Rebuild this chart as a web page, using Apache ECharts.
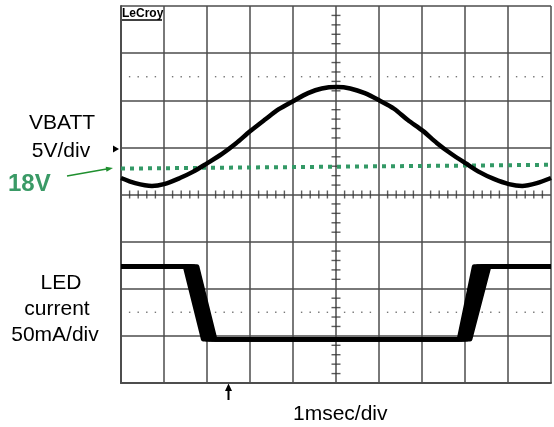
<!DOCTYPE html>
<html><head><meta charset="utf-8">
<script src="https://cdn.jsdelivr.net/npm/echarts@6/dist/echarts.min.js"></script>
<style>html,body{margin:0;padding:0;background:#fff}#c{width:554px;height:427px}</style>
</head><body><div id="c"></div>
<script>
// time in divisions (1 ms/div), amplitude in divisions (VBATT 5V/div, LED 50mA/div)
const vbattTime = [0.00,0.33,0.72,1.00,1.37,1.67,2.00,2.35,2.67,3.00,3.35,3.67,4.00,4.35,4.67,5.02,5.33,5.67,6.02,6.35,6.67,7.02,7.35,7.67,8.02,8.35,8.67,9.02,9.33,9.67,10.0];
const vbattLevel = [4.35,4.24,4.18,4.22,4.35,4.48,4.66,4.86,5.08,5.34,5.59,5.81,5.98,6.15,6.25,6.28,6.25,6.15,5.99,5.82,5.58,5.35,5.09,4.87,4.66,4.47,4.33,4.22,4.18,4.24,4.35];
const ledHigh = 2.47;
const ledLow = 0.93;
const fallStart = [1.49,1.56,1.63,1.70,1.77];
const fallEnd   = [1.91,1.98,2.05,2.12,2.19];
const riseStart = [7.86,7.92,7.99,8.05,8.12];
const riseEnd   = [8.21,8.29,8.38,8.47,8.56];
const thresholdTime = [0, 10];
const thresholdLevel = [4.55, 4.63]; // 18V
const dottedRows = [6.5, 1.5];

const GRID = '#4d4d4d';
const FONT = "'Liberation Sans', Arial, sans-serif";

// minor graticule positions (layout)
const minorX = [], minorY = [];
for (let i = 0; i < 10; i++) for (let k = 1; k <= 4; k++) minorX.push(+(i + k * 0.2).toFixed(2));
for (let j = 0; j < 8; j++) for (let k = 1; k <= 4; k++) minorY.push(+(j + k * 0.2).toFixed(2));

const dotData = [];
dottedRows.forEach(r => minorX.forEach(x => dotData.push([x, r])));

const last = fallStart.length - 1;
// jitter envelopes of the LED edges: [t_a, t_b, t_c, t_d, level_1, level_2]
const bandData = [
  [fallStart[0], fallStart[last], fallEnd[last], fallEnd[0], ledHigh, ledLow],
  [riseStart[0], riseStart[last], riseEnd[last], riseEnd[0], ledLow, ledHigh]
];

const series = [
  { type: 'scatter', silent: true, symbol: 'rect', symbolSize: 1.4, itemStyle: { color: '#555' }, data: dotData, z: 1 },
  { type: 'scatter', silent: true, symbol: 'rect', symbolSize: [1.4, 8], itemStyle: { color: '#333' }, data: minorX.map(x => [x, 4]), z: 1 },
  { type: 'scatter', silent: true, symbol: 'rect', symbolSize: [9, 1.4], itemStyle: { color: '#333' }, data: minorY.map(y => [5, y]), z: 1 },
  { type: 'line', silent: true, symbol: 'none', data: thresholdTime.map((t, i) => [t, thresholdLevel[i]]),
    lineStyle: { color: '#339966', width: 4, type: [4, 5], cap: 'butt' }, z: 3 },
  { type: 'line', silent: true, symbol: 'none', smooth: 0.3, data: vbattTime.map((t, i) => [t, vbattLevel[i]]),
    lineStyle: { color: '#000', width: 4.5 }, z: 4 },
  { type: 'custom', silent: true, z: 4, encode: { x: [0, 1, 2, 3], y: [4, 5] }, data: bandData,
    renderItem: function (params, api) {
      const p = [api.coord([api.value(0), api.value(4)]), api.coord([api.value(1), api.value(4)]),
                 api.coord([api.value(2), api.value(5)]), api.coord([api.value(3), api.value(5)])];
      return { type: 'polygon', shape: { points: p }, style: { fill: '#000', stroke: '#000', lineWidth: 2 } };
    } }
];
fallStart.forEach((fs, i) => {
  series.push({ type: 'line', silent: true, symbol: 'none', z: 4,
    data: [[0, ledHigh], [fs, ledHigh], [fallEnd[i], ledLow], [riseStart[i], ledLow], [riseEnd[i], ledHigh], [10, ledHigh]],
    lineStyle: { color: '#000', width: 4.5, join: 'round' } });
});

const txt = (x, y, s, opt) => Object.assign({ type: 'text', x: x, y: y, silent: true,
  style: Object.assign({ text: s, font: '21px ' + FONT, fill: '#000', textAlign: 'center', textVerticalAlign: 'middle' }, opt || {}) });

const chart = echarts.init(document.getElementById('c'), null, { renderer: 'canvas' });
chart.setOption({
  animation: false,
  backgroundColor: '#fff',
  grid: { left: 121, top: 6, right: 3, bottom: 44, containLabel: false },
  xAxis: { type: 'value', min: 0, max: 10, interval: 1,
    axisLine: { show: true, lineStyle: { color: GRID, width: 2 } }, axisTick: { show: false }, axisLabel: { show: false },
    splitLine: { show: true, lineStyle: { color: GRID, width: 1.5 } } },
  yAxis: { type: 'value', min: 0, max: 8, interval: 1,
    axisLine: { show: true, lineStyle: { color: GRID, width: 2 } }, axisTick: { show: false }, axisLabel: { show: false },
    splitLine: { show: true, lineStyle: { color: GRID, width: 1.5 } } },
  series: series,
  graphic: [
    txt(62, 123, 'VBATT'),
    txt(61, 151, '5V/div'),
    { type: 'text', x: 8, y: 184, silent: true, style: { text: '18V', font: 'bold 24px ' + FONT, fill: '#3a9a66', textAlign: 'left', textVerticalAlign: 'middle' } },
    txt(61, 283, 'LED'),
    txt(57, 309, 'current'),
    txt(55, 335, '50mA/div'),
    { type: 'text', x: 293, y: 414, silent: true, style: { text: '1msec/div', font: '21px ' + FONT, fill: '#000', textAlign: 'left', textVerticalAlign: 'middle' } },
    { type: 'text', x: 122, y: 14, silent: true, style: { text: 'LeCroy', font: 'bold 12px ' + FONT, fill: '#000', textAlign: 'left', textVerticalAlign: 'middle' } },
    { type: 'line', silent: true, shape: { x1: 121, y1: 20, x2: 162, y2: 20 }, style: { stroke: '#000', lineWidth: 1.5 } },
    // green arrow
    { type: 'line', silent: true, shape: { x1: 67, y1: 176, x2: 108, y2: 168.8 }, style: { stroke: '#1f8f2f', lineWidth: 1.5 } },
    { type: 'polygon', silent: true, shape: { points: [[113, 168], [106.5, 171.7], [105.7, 166.7]] }, style: { fill: '#1f8f2f' } },
    // channel marker
    { type: 'polygon', silent: true, shape: { points: [[113, 145.5], [119, 149], [113, 152.5]] }, style: { fill: '#000' } },
    // bottom arrow
    { type: 'line', silent: true, shape: { x1: 228.5, y1: 400, x2: 228.5, y2: 389 }, style: { stroke: '#000', lineWidth: 2 } },
    { type: 'polygon', silent: true, shape: { points: [[228.5, 383.5], [225, 391], [232, 391]] }, style: { fill: '#000' } }
  ]
});
</script></body></html>
